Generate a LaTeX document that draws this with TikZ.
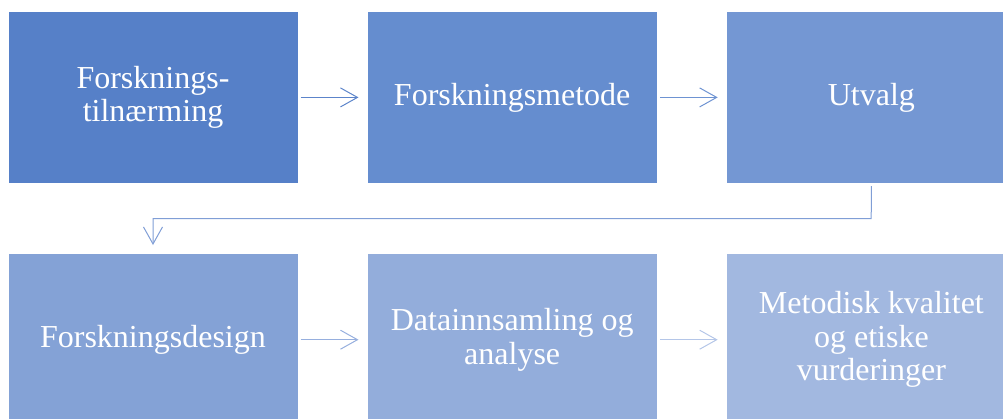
\documentclass[tikz,border=0pt]{standalone}
\usepackage{fontspec}
\setmainfont{Liberation Serif}
\usetikzlibrary{arrows.meta}
\definecolor{boxA}{RGB}{86,128,200}
\definecolor{boxB}{RGB}{101,141,207}
\definecolor{boxC}{RGB}{116,151,211}
\definecolor{boxD}{RGB}{132,162,214}
\definecolor{boxE}{RGB}{147,173,219}
\definecolor{boxF}{RGB}{162,184,224}
\definecolor{lnA}{RGB}{92,132,202}
\definecolor{lnB}{RGB}{110,147,210}
\definecolor{lnC}{RGB}{128,158,214}
\definecolor{lnD}{RGB}{150,175,222}
\definecolor{lnE}{RGB}{180,198,232}
\tikzset{
  stepbox/.style={rectangle, anchor=north west, minimum width=289pt, minimum height=171pt,
    inner sep=0pt, text=white, align=center, font=\fontsize{32}{33.5}\selectfont},
  flow/.style={line width=1pt, -{Straight Barb[length=17pt,width=19pt]},
    shorten <=3pt, shorten >=9pt}
}
\begin{document}
\begin{tikzpicture}[x=1pt,y=-1pt]
\useasboundingbox (0,0) rectangle (1003,418);
\clip (0,0) rectangle (1003,418);
% top row
\node[stepbox, fill=boxA] (tilnaerming) at (8.3,11.7) {Forsknings-\\tilnærming};
\node[stepbox, fill=boxB] (metode) at (367.5,11.7) {Forskningsmetode};
\node[stepbox, fill=boxC] (utvalg) at (726.7,11.7) {Utvalg};
% bottom row
\node[stepbox, fill=boxD] (design) at (8.3,254) {Forskningsdesign};
\node[stepbox, fill=boxE] (data) at (367.5,254) {Datainnsamling og\\analyse};
\node[stepbox, fill=boxF] (kvalitet) at (726.7,254) {Metodisk kvalitet\\og etiske\\vurderinger};
% connectors
\draw[flow, draw=lnA] (tilnaerming) -- (metode);
\draw[flow, draw=lnB] (metode) -- (utvalg);
\coordinate (bend) at (871.2,218.7);
\draw[flow, draw=lnC] (utvalg.south) -- (bend) -| (design.north);
\draw[flow, draw=lnD] (design) -- (data);
\draw[flow, draw=lnE] (data) -- (kvalitet);
\end{tikzpicture}
\end{document}
